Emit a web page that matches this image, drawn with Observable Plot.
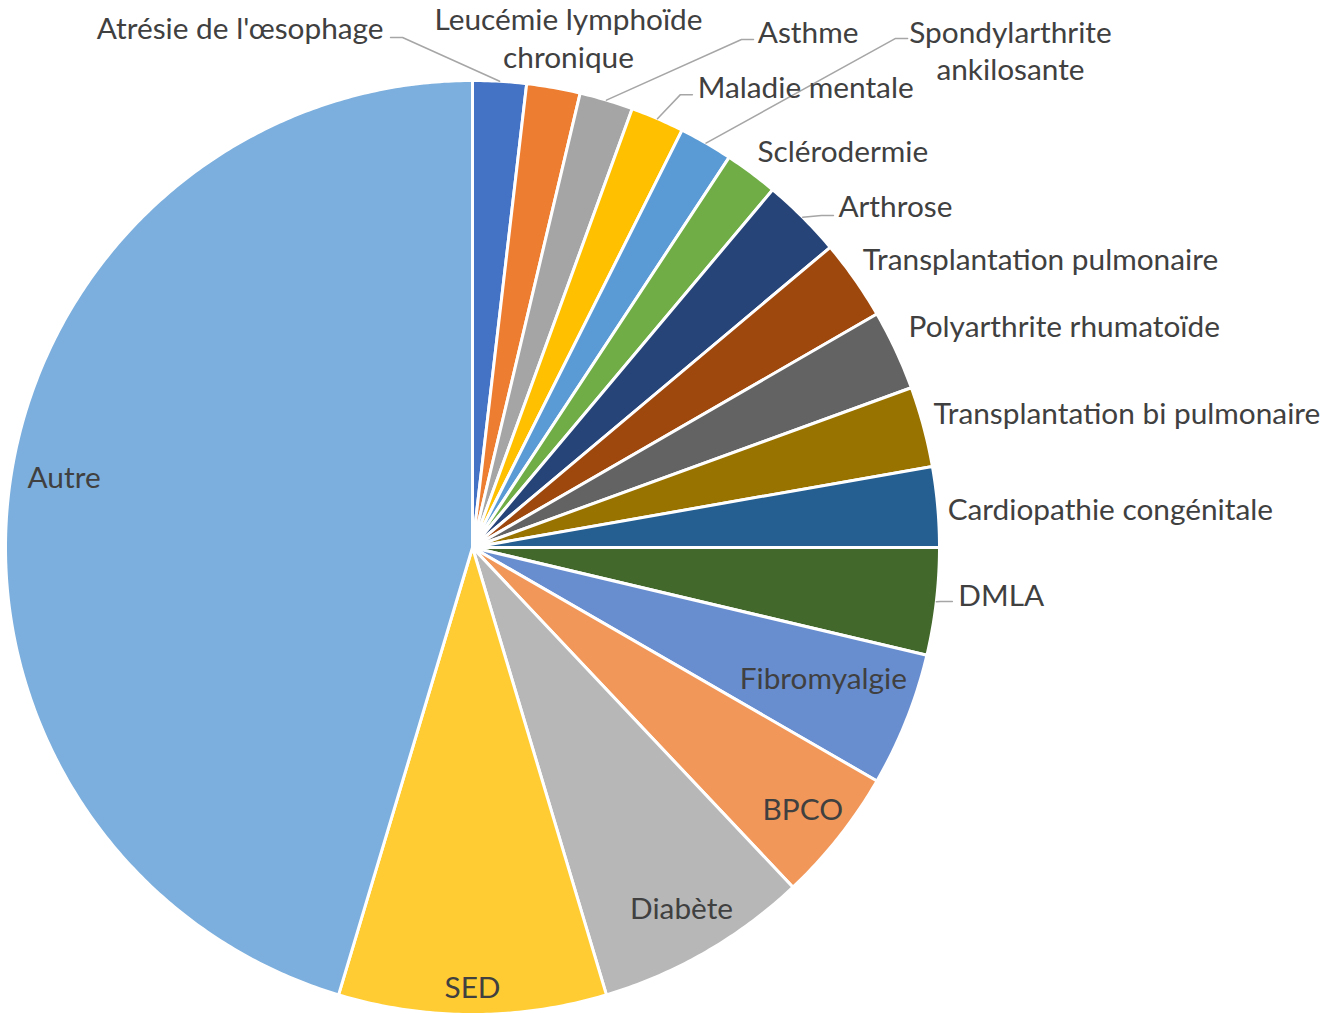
<!DOCTYPE html>
<html>
<head>
<meta charset="utf-8">
<script src="https://cdn.jsdelivr.net/npm/d3@7"></script>
<script src="https://cdn.jsdelivr.net/npm/@observablehq/plot@0.6"></script>
<style>
  html, body { margin: 0; padding: 0; background: #ffffff; }
  #chart { width: 1324px; height: 1014px; }
</style>
</head>
<body>
<div id="chart"></div>
<script>
// ---- Data (clockwise from 12 o'clock) ----
const categories = [
  "Atrésie de l'œsophage",
  "Leucémie lymphoïde\nchronique",
  "Asthme",
  "Maladie mentale",
  "Spondylarthrite\nankilosante",
  "Sclérodermie",
  "Arthrose",
  "Transplantation pulmonaire",
  "Polyarthrite rhumatoïde",
  "Transplantation bi pulmonaire",
  "Cardiopathie congénitale",
  "DMLA",
  "Fibromyalgie",
  "BPCO",
  "Diabète",
  "SED",
  "Autre"
];
const counts = [2, 2, 2, 2, 2, 2, 3, 3, 3, 3, 3, 4, 5, 5, 8, 10, 49];

// ---- Styles ----
const sliceColors = [
  "#4472C4", "#ED7D31", "#A5A5A5", "#FFC000", "#5B9BD5", "#70AD47",
  "#264478", "#9E480E", "#636363", "#997300", "#255E91", "#43682B",
  "#698ED0", "#F1975A", "#B7B7B7", "#FFCD33", "#7CAFDD"
];

// ---- Label layout (polar: degrees clockwise from top, radius in pie radii) ----
const labelAngle  = [350.3, 10.65, 28.9, 26.0, 47.2, 35.6, 46.9, 53.4, 63.0, 73.6, 85.2, 95.4, 110.3, 128.2, 149.8, 180.0, 280.0];
const labelRadius = [1.130, 1.1124, 1.264, 1.100, 1.570, 1.048, 1.073, 1.041, 1.048, 1.029, 1.021, 1.045, 0.801, 0.900, 0.890, 0.938, 0.888];
const labelAnchor = ["end", "middle", "start", "start", "middle", "start", "start", "start", "start", "start", "start", "start",
                     "middle", "middle", "middle", "middle", "middle"];
const leaderAngle  = [350.87, null, 28.95, 25.9, 40.52, null, 47.4, null, null, null, null, 96.42, null, null, null, null, null];
const leaderRadius = [1.106,  null, 1.243, 1.078, 1.434, null, 1.050, null, null, null, null, 1.034, null, null, null, null, null];

// ---- Geometry ----
const R_PX = 467;           // pie radius in pixels
const CX = 472, CY = 547;   // pie centre in pixels
const W = 1324, H = 1014;
const polar = (deg, rho) => {
  const a = deg * Math.PI / 180;
  return {x: rho * Math.sin(a), y: rho * Math.cos(a)};
};

const total = d3.sum(counts);
let cum = 0;
const slicePts = [];
const mids = [];
categories.forEach((name, i) => {
  const a0 = cum / total * 360;
  cum += counts[i];
  const a1 = cum / total * 360;
  mids.push((a0 + a1) / 2);
  slicePts.push({name, x: 0, y: 0});
  const n = Math.max(2, Math.ceil((a1 - a0) / 0.5));
  for (let k = 0; k <= n; k++) {
    const p = polar(a0 + (a1 - a0) * k / n, 1);
    slicePts.push({name, x: p.x, y: p.y});
  }
});

const labels = categories.map((name, i) => {
  const p = polar(labelAngle[i], labelRadius[i]);
  return {name, x: p.x, y: p.y, anchor: labelAnchor[i]};
});

const leaderPts = [];
categories.forEach((name, i) => {
  if (leaderAngle[i] == null) return;
  const s = polar(leaderAngle[i], leaderRadius[i]);
  const t = polar(mids[i], 1.0);
  const dir = Math.sign(t.x - s.x);
  leaderPts.push({name, x: s.x, y: s.y});
  leaderPts.push({name, x: s.x + dir * 12 / R_PX, y: s.y});
  leaderPts.push({name, x: t.x, y: t.y});
});

const font = "Lato, 'Open Sans', sans-serif";
const textMarks = ["start", "middle", "end"].map(anchor =>
  Plot.text(labels.filter(d => d.anchor === anchor), {
    x: "x", y: "y", text: "name",
    textAnchor: anchor, lineAnchor: "middle",
    fill: "#404040", fontSize: 29.8, lineHeight: 1.27,
    fontFamily: font
  })
);

const chart = Plot.plot({
  width: W, height: H,
  margin: 0,
  style: {background: "#ffffff", fontFamily: font},
  x: {domain: [-CX / R_PX, (W - CX) / R_PX], axis: null},
  y: {domain: [-(H - CY) / R_PX, CY / R_PX], axis: null},
  color: {domain: categories, range: sliceColors},
  marks: [
    Plot.line(slicePts, {
      x: "x", y: "y", z: "name", fill: "name",
      stroke: "#ffffff", strokeWidth: 3, strokeLinejoin: "round",
      curve: "linear-closed"
    }),
    Plot.line(leaderPts, {
      x: "x", y: "y", z: "name",
      stroke: "#A6A6A6", strokeWidth: 1.5
    }),
    ...textMarks
  ]
});
document.getElementById("chart").appendChild(chart);
</script>
</body>
</html>
